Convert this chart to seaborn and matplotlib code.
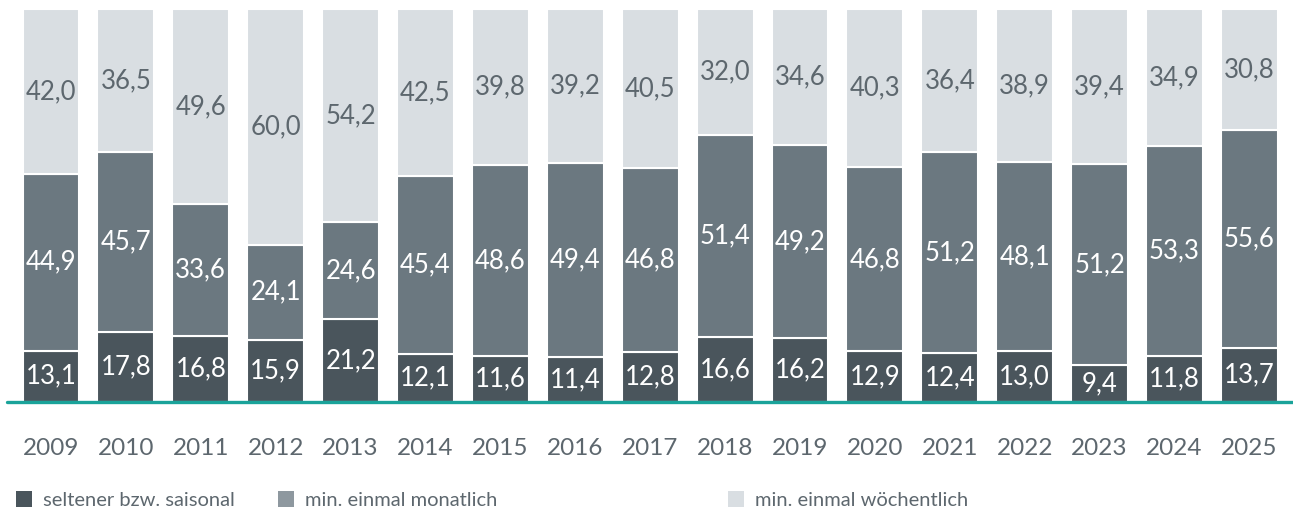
import pandas as pd
import seaborn as sns
import matplotlib.pyplot as plt
from matplotlib.patches import Patch

# Data
years = [str(y) for y in range(2009, 2026)]
seltener = [13.1, 17.8, 16.8, 15.9, 21.2, 12.1, 11.6, 11.4, 12.8, 16.6, 16.2, 12.9, 12.4, 13.0, 9.4, 11.8, 13.7]
monatlich = [44.9, 45.7, 33.6, 24.1, 24.6, 45.4, 48.6, 49.4, 46.8, 51.4, 49.2, 46.8, 51.2, 48.1, 51.2, 53.3, 55.6]
woechentlich = [42.0, 36.5, 49.6, 60.0, 54.2, 42.5, 39.8, 39.2, 40.5, 32.0, 34.6, 40.3, 36.4, 38.9, 39.4, 34.9, 30.8]
series_names = ["seltener bzw. saisonal", "min. einmal monatlich", "min. einmal wöchentlich"]

df = pd.DataFrame({"Jahr": years, "s": seltener, "m": monatlich, "w": woechentlich})
df["b_m"] = df["s"]
df["b_w"] = df["s"] + df["m"]

sns.set_theme(style="white")
plt.rcParams["font.family"] = ["Lato", "DejaVu Sans"]

bar_colors = ["#4a555c", "#6b7880", "#d9dee2"]
legend_colors = ["#4a555c", "#8e989f", "#d9dee2"]
text_col = "#5d676e"

fig = plt.figure(figsize=(12.93, 5.22), dpi=100)
ax = fig.add_axes([0, (522 - 402) / 522, 1, (402 - 9) / 522])

for col, bot, c in [("s", None, bar_colors[0]), ("m", "b_m", bar_colors[1]), ("w", "b_w", bar_colors[2])]:
    kw = {} if bot is None else {"bottom": df[bot]}
    sns.barplot(data=df, x="Jahr", y=col, color=c, saturation=1, width=0.76,
                edgecolor="white", linewidth=1.5, ax=ax, **kw)

label_cols = ["white", "white", text_col]
for cont, vals, lc in zip(ax.containers, [seltener, monatlich, woechentlich], label_cols):
    ax.bar_label(cont, labels=[f"{v:.1f}".replace(".", ",") for v in vals],
                 label_type="center", color=lc, fontsize=18.5)

ax.set_xlim(-51 / 74.9, (1293 - 51) / 74.9)
ax.set_ylim(0, 100)
ax.axhline(0, xmin=7 / 1293, xmax=1, color="#1aa39a", linewidth=2.4, zorder=5, clip_on=False)
for s in ax.spines.values():
    s.set_visible(False)
ax.set_yticks([])
ax.set_xlabel("")
ax.set_ylabel("")
ax.tick_params(axis="x", length=0, pad=26, labelsize=17.5, labelcolor=text_col)

# Legend entries placed individually
starts = [16, 278, 728]
for name, c, x0 in zip(series_names, legend_colors, starts):
    fig.legend(handles=[Patch(facecolor=c, edgecolor="none")], labels=[name],
               loc="center left", bbox_to_anchor=(x0 / 1293, 1 - 500 / 522),
               frameon=False, handlelength=0.8, handleheight=0.8, handletextpad=0.55,
               borderpad=0, borderaxespad=0, fontsize=14.5, labelcolor=text_col)

fig.savefig("out.png", dpi=100, facecolor="white")
